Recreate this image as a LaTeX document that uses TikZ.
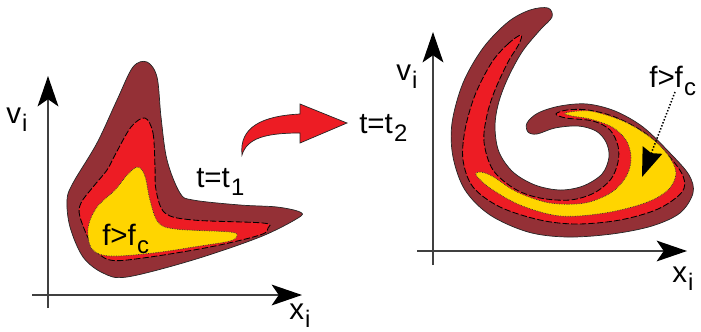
\documentclass[tikz,border=0pt]{standalone}
\usepackage{fontspec}
\setmainfont{Liberation Sans}
\usetikzlibrary{arrows.meta}
\definecolor{blood}{RGB}{148,48,54}
\definecolor{flame}{RGB}{237,28,36}
\definecolor{gold}{RGB}{255,213,0}
\newcommand{\lowsub}[1]{\kern0.04em\raisebox{-0.3em}{\fontsize{17}{17}\selectfont #1}}
\tikzset{
  axis/.style={line width=0.9pt, draw=black!75,
    -{Stealth[length=0.76cm, width=0.52cm, inset=0.18cm, black]}},
  outer/.style={fill=blood, draw=black!85, line width=0.5pt},
  middle/.style={fill=flame, draw=black, line width=0.6pt, dash pattern=on 4.5pt off 1.6pt},
  core/.style={fill=gold, draw=black!80, line width=0.5pt, dash pattern=on 0.5pt off 0.7pt},
  lbl/.style={inner sep=0pt, anchor=base west, font=\fontsize{21}{24}\selectfont},
}
\begin{document}
\begin{tikzpicture}[x=0.025cm, y=-0.025cm]
  \useasboundingbox (0,0) rectangle (701,331);
  \begin{scope}
    \draw[axis] (48,308) -- (48,76);
    \draw[axis] (32,295) -- (302,295);
    \filldraw[outer] plot[smooth cycle, tension=0.55] coordinates {
      (147,62) (157,77) (161,117) (167,160) (180,193) (193,200) (240,205)
      (277,207) (300,212) (298,218) (260,237) (193,260) (127,277) (103,273)
      (83,257) (70,227) (67,200) (73,183) (97,143) (117,100) (133,67)};
    \filldraw[middle] plot[smooth cycle, tension=0.55] coordinates {
      (145,118) (153,133) (155,167) (156,190) (165,213) (193,220) (263,223)
      (268,228) (260,235) (210,247) (143,258) (110,260) (93,247) (80,217)
      (81,203) (93,187) (107,170) (115,155) (131,127)};
    \filldraw[core] plot[smooth cycle, tension=0.55] coordinates {
      (138,167) (145,176) (150,200) (158,222) (175,229) (230,232) (237,236)
      (230,241) (200,246) (153,253) (110,256) (92,249) (88,228) (97,207)
      (115,190) (128,174)};
    \node[lbl] (vleft) at (6,123) {v\lowsub{i}};
    \node[lbl] (xleft) at (289,319) {x\lowsub{i}};
    \node[lbl] (fcleft) at (102,245) {f>f\lowsub{c}};
    \node[lbl] (tone) at (196,187) {t=t\lowsub{1}};
  \end{scope}
  \filldraw[fill=flame, draw=black!85, line width=0.5pt]
    (242,155) .. controls (239,127) and (262,116) .. (300,114)
    -- (300,104) -- (347,123) -- (300,143) -- (300,133)
    .. controls (266,133) and (247,138) .. (242,155) -- cycle;
  \begin{scope}
    \draw[axis] (433,265) -- (433,32);
    \draw[axis] (417,251) -- (687,251);
    \filldraw[outer] plot[smooth cycle, tension=0.55] coordinates {
      (548,8) (530,10) (508,22) (483,48) (463,83) (452,123) (453,157)
      (465,190) (490,215) (528,232) (567,237) (612,234) (652,226) (680,213)
      (693,193) (689,175) (670,153) (643,127) (615,111) (587,104) (560,106)
      (538,113) (527,123) (528,132) (537,134) (555,128) (578,126) (596,131)
      (606,142) (609,157) (602,174) (583,186) (560,190) (535,185) (513,172)
      (499,152) (495,128) (498,105) (507,80) (522,52) (540,30) (552,17)};
    \filldraw[middle] plot[smooth cycle, tension=0.55] coordinates {
      (521,35) (509,43) (492,62) (475,95) (465,130) (463,160) (473,187)
      (500,207) (540,220) (577,224) (620,220) (658,209) (682,192) (683,176)
      (668,155) (645,133) (615,117) (588,110) (567,110) (556,114) (566,118)
      (593,121) (610,130) (618,146) (618,162) (611,179) (594,193) (570,200)
      (540,198) (515,189) (493,170) (484,142) (487,115) (495,90) (508,62)
      (519,44)};
    \filldraw[core] plot[smooth cycle, tension=0.55] coordinates {
      (565,113) (590,111) (623,121) (650,137) (668,155) (676,173) (668,190)
      (645,203) (605,213) (560,216) (520,205) (490,188) (476,175) (480,172)
      (492,176) (517,192) (550,203) (585,203) (612,192) (627,175) (631,157)
      (626,140) (612,127) (590,119) (572,116)};
    \node[lbl] (vright) at (396,80) {v\lowsub{i}};
    \node[lbl] (xright) at (672,282) {x\lowsub{i}};
    \node[lbl] (fcright) at (649,87) {f>f\lowsub{c}};
    \node[lbl] (ttwo) at (359,133) {t=t\lowsub{2}};
    \coordinate (fcfoot) at (675,92);
    \coordinate (fctip) at (642,177);
    \draw[line width=1.1pt, dash pattern=on 1pt off 1.3pt,
      -{Stealth[length=0.72cm, width=0.52cm, inset=0.08cm, black]}]
      (fcfoot) -- (fctip);
  \end{scope}
\end{tikzpicture}
\end{document}
